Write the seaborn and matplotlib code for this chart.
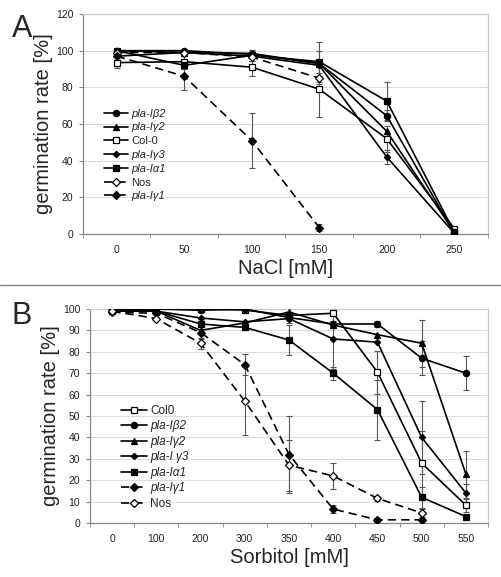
import numpy as np
import pandas as pd
import matplotlib
matplotlib.use("Agg")
import matplotlib.pyplot as plt
from matplotlib.lines import Line2D
import seaborn as sns

nan = np.nan

# ---------------- Panel A data (NaCl) ----------------
nacl_cats = ["0", "50", "100", "150", "200", "250"]
a_b2 = [100, 100, 98, 93, 64.5, 0.5]
a_g2 = [100, 99, 98.5, 93, 56, 1]
a_col = [93.5, 94, 91, 79, 52, 3]
a_g3 = [97, 99, 97, 92, 42, 0.5]
a_a1 = [100, 92, 97.5, 94, 72.5, 1]
a_nos = [99, 99, 96.5, 85, nan, nan]
a_g1 = [97, 86, 51, 3.5, nan, nan]

a_b2_err = [0, 0, 0, 0, 3, 0]
a_g2_err = [0, 0, 2, 7, 0, 0]
a_col_err = [3, 4, 5, 15, 7, 0]
a_g3_err = [0, 0, 0, 0, 4, 0]
a_a1_err = [0, 2, 3, 11, 10.5, 0]
a_nos_err = [0, 0, 2, 3, nan, nan]
a_g1_err = [0, 7.5, 15, 2, nan, nan]

# ---------------- Panel B data (Sorbitol) ----------------
sorb_cats = ["0", "100", "200", "300", "350", "400", "450", "500", "550"]
b_col = [100, 100, 100, 99.5, 97, 98, 70.5, 28, 8.3]
b_b2 = [100, 100, 99.4, 100, 96, 93, 93, 77, 70]
b_g2 = [100, 99, 90, 93.5, 98.6, 92.5, 88, 84, 22.8]
b_g3 = [99, 99, 95.8, 94, 95.5, 86, 84.5, 40, 14]
b_a1 = [99, 99, 93, 91.4, 85.5, 70, 53, 12, 3]
b_g1 = [98.5, 98, 89, 74, 32, 6.5, 1.5, 1.5, nan]
b_nos = [99, 95.5, 84, 57, 27, 22, 11.5, 4.7, nan]

b_col_err = [0, 0, 0, 0, 0, 3.5, 10, 15, 3]
b_b2_err = [0, 0, 0, 0, 0, 0, 1.5, 8, 8]
b_g2_err = [0, 0, 0, 0, 5, 0, 0, 11, 11]
b_g3_err = [0, 0, 0, 0, 0, 14, 0, 17, 4]
b_a1_err = [0, 0, 0, 0, 7, 3, 14, 5, 0]
b_g1_err = [0, 0, 3, 5, 18, 2, 1, 0, nan]
b_nos_err = [0, 0, 2.5, 16, 12, 6, 1, 2, nan]

sns.set_style("white")
plt.rcParams['font.family'] = ['Liberation Sans', 'DejaVu Sans']

fig = plt.figure(figsize=(5.02, 5.77), dpi=100)

# style: (marker, markersize, facecolor, dashed)
styles = {
    "b2": ("o", 4.5, "black", False),
    "g2": ("^", 4.5, "black", False),
    "col": ("s", 4.5, "white", False),
    "g3": ("D", 3.2, "black", False),
    "a1": ("s", 4.5, "black", False),
    "nos": ("D", 3.6, "white", True),
    "g1": ("D", 3.6, "black", True),
}


def draw_panel(ax, cats, series, ylim, ystep, xlabel):
    pos = np.arange(len(cats))
    for key, label, vals, errs in series:
        v = np.array(vals, dtype=float)
        e = np.array(errs, dtype=float)
        m = np.isfinite(v) & np.isfinite(e) & (e > 0)
        if m.any():
            ax.errorbar(pos[m], v[m], yerr=e[m], fmt="none", ecolor="#555555",
                        elinewidth=0.8, capsize=2.5, capthick=0.8, zorder=2)
    handles = []
    for key, label, vals, errs in series:
        mk, ms, fc, dashed = styles[key]
        ls = (0, (5, 3)) if dashed else "-"
        df = pd.DataFrame({"x": pos, "y": vals}).dropna()
        sns.lineplot(data=df, x="x", y="y", ax=ax, color="black",
                     linewidth=1.2, marker=mk, markersize=ms,
                     markerfacecolor=fc, markeredgecolor="black",
                     markeredgewidth=0.9, linestyle=ls, zorder=3)
        handles.append(Line2D([0], [0], color="black", linewidth=1.2,
                              linestyle=ls, marker=mk, markersize=ms,
                              markerfacecolor=fc, markeredgecolor="black",
                              markeredgewidth=0.9, label=label))
    ax.set_xlim(-0.5, len(cats) - 0.5)
    ax.set_ylim(*ylim)
    ax.set_yticks(np.arange(ylim[0], ylim[1] + 0.1, ystep))
    ax.set_xticks(pos)
    ax.set_xticklabels(cats)
    ax.set_xticks(np.arange(-0.5, len(cats), 1.0), minor=True)
    ax.tick_params(axis="x", which="major", length=0, labelsize=7.5, pad=8,
                   labelcolor="#222222")
    ax.tick_params(axis="x", which="minor", length=3, color="#888888",
                   direction="out", bottom=True)
    ax.tick_params(axis="y", which="major", length=3, color="#888888",
                   direction="out", left=True, labelsize=7.5,
                   labelcolor="#222222", pad=4)
    ax.grid(axis="y", color="#dcdcdc", linewidth=0.8)
    ax.set_axisbelow(True)
    for s in ["left", "bottom"]:
        ax.spines[s].set_color("#888888")
        ax.spines[s].set_linewidth(0.9)
    for s in ["top", "right"]:
        ax.spines[s].set_color("#cccccc")
        ax.spines[s].set_linewidth(0.9)
    ax.set_xlabel(xlabel, fontsize=14.5, labelpad=3)
    ax.set_ylabel("germination rate [%]", fontsize=14.5, labelpad=2)
    return handles


# Panel A
axA = fig.add_axes([83 / 502, 1 - 234 / 577, 405 / 502, 220 / 577])
seriesA = [
    ("b2", "pla-Iβ2", a_b2, a_b2_err),
    ("g2", "pla-Iγ2", a_g2, a_g2_err),
    ("col", "Col-0", a_col, a_col_err),
    ("g3", "pla-Iγ3", a_g3, a_g3_err),
    ("a1", "pla-Iα1", a_a1, a_a1_err),
    ("nos", "Nos", a_nos, a_nos_err),
    ("g1", "pla-Iγ1", a_g1, a_g1_err),
]
hA = draw_panel(axA, nacl_cats, seriesA, (0, 120), 20, "NaCl [mM]")
legA = axA.legend(handles=hA, loc="upper left", bbox_to_anchor=(0.04, 0.59),
                  frameon=False, fontsize=8, labelspacing=0.34,
                  handlelength=2.2, handletextpad=0.3, borderaxespad=0)
for t in legA.get_texts():
    if t.get_text() not in ("Col-0", "Nos"):
        t.set_fontstyle("italic")

# Panel B
axB = fig.add_axes([90 / 502, 1 - 523 / 577, 398 / 502, 214 / 577])
seriesB = [
    ("col", "Col0", b_col, b_col_err),
    ("b2", "pla-Iβ2", b_b2, b_b2_err),
    ("g2", "pla-Iγ2", b_g2, b_g2_err),
    ("g3", "pla-I γ3", b_g3, b_g3_err),
    ("a1", "pla-Iα1", b_a1, b_a1_err),
    ("g1", "pla-Iγ1", b_g1, b_g1_err),
    ("nos", "Nos", b_nos, b_nos_err),
]
hB = draw_panel(axB, sorb_cats, seriesB, (0, 100), 10, "Sorbitol [mM]")
legB = axB.legend(handles=hB, loc="upper left", bbox_to_anchor=(0.065, 0.575),
                  frameon=False, fontsize=8.5, labelspacing=0.3,
                  handlelength=2.2, handletextpad=0.3, borderaxespad=0)
for t in legB.get_texts():
    if t.get_text() not in ("Col0", "Nos"):
        t.set_fontstyle("italic")

# separator line and panel letters
fig.add_artist(Line2D([0, 1], [1 - 285 / 577, 1 - 285 / 577],
                      color="#888888", linewidth=1.0))
fig.text(12 / 502, 1 - 37 / 577, "A", fontsize=22, va="baseline")
fig.text(12 / 502, 1 - 324 / 577, "B", fontsize=22, va="baseline")

fig.savefig("out.png", dpi=100)
